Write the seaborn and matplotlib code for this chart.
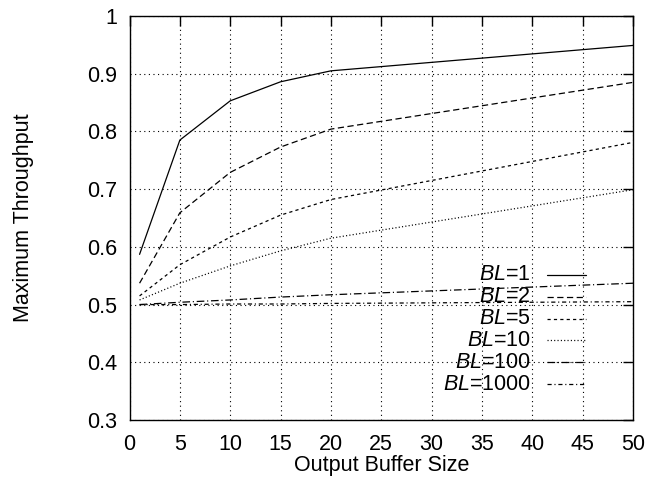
import numpy as np
import pandas as pd
import matplotlib
matplotlib.use("Agg")
import matplotlib.pyplot as plt
import seaborn as sns
from matplotlib.lines import Line2D

# ---- data ----
buffer_size = [1, 5, 10, 15, 20, 50]
bl_labels = ["1", "2", "5", "10", "100", "1000"]
tp_bl1 = [0.587, 0.785, 0.853, 0.886, 0.905, 0.949]
tp_bl2 = [0.537, 0.659, 0.729, 0.773, 0.804, 0.885]
tp_bl5 = [0.515, 0.569, 0.617, 0.655, 0.682, 0.781]
tp_bl10 = [0.508, 0.537, 0.567, 0.593, 0.615, 0.699]
tp_bl100 = [0.500, 0.504, 0.508, 0.513, 0.517, 0.537]
tp_bl1000 = [0.500, 0.500, 0.501, 0.501, 0.502, 0.505]
x_ticks = [0, 5, 10, 15, 20, 25, 30, 35, 40, 45, 50]
y_ticks = [0.3, 0.4, 0.5, 0.6, 0.7, 0.8, 0.9, 1.0]

series = [tp_bl1, tp_bl2, tp_bl5, tp_bl10, tp_bl100, tp_bl1000]
df = pd.DataFrame({
    "size": np.tile(buffer_size, len(bl_labels)),
    "tp": np.concatenate(series),
    "BL": np.repeat(bl_labels, len(buffer_size)),
})

sns.set_style("white")
plt.rcParams["font.family"] = ["Liberation Sans", "DejaVu Sans"]
plt.rcParams["mathtext.fontset"] = "custom"
plt.rcParams["mathtext.it"] = "Liberation Sans:italic"
plt.rcParams["mathtext.rm"] = "Liberation Sans"
plt.rcParams["lines.scale_dashes"] = False
plt.rcParams["text.color"] = "black"
plt.rcParams["axes.labelcolor"] = "black"
plt.rcParams["xtick.color"] = "black"
plt.rcParams["ytick.color"] = "black"

FS = 15.5

dash_map = {
    "1": "",
    "2": (4.5, 2.5),
    "5": (2.3, 2.3),
    "10": (0.8, 1.6),
    "100": (5.5, 2.0, 0.8, 2.0),
    "1000": (3.0, 2.0, 0.8, 2.0),
}
palette = {k: "black" for k in bl_labels}

fig = plt.figure(figsize=(6.47, 4.8), dpi=100)
ax = fig.add_axes([129.5 / 647, 1 - 420 / 480, (633 - 129.5) / 647, (420 - 16) / 480])

sns.lineplot(data=df, x="size", y="tp", hue="BL", style="BL", dashes=dash_map,
             palette=palette, hue_order=bl_labels, style_order=bl_labels,
             linewidth=0.9, legend=False, ax=ax)

ax.set_xlim(0, 50)
ax.set_ylim(0.3, 1.0)
ax.set_xticks(x_ticks)
ax.set_yticks(y_ticks)
ax.set_xticklabels([f"{v:g}" for v in x_ticks])
ax.set_yticklabels([f"{v:g}" for v in y_ticks])
ax.grid(True, color="black", linestyle=(0, (0.8, 2.5)), linewidth=0.8)
ax.tick_params(direction="in", length=7, width=1, labelsize=FS, color="black",
               labelcolor="black", top=True, right=True)
ax.tick_params(axis="y", pad=9)
ax.tick_params(axis="x", pad=10)
for s in ax.spines.values():
    s.set_color("black")
    s.set_linewidth(1.0)

ax.set_xlabel("Output Buffer Size", fontsize=FS, labelpad=0, color="black")
ax.set_ylabel("Maximum Throughput", fontsize=FS, color="black")
ax.yaxis.set_label_coords(-0.19, 0.5)

# gnuplot-style key: right-aligned text with sample to the right
text_x = 0.797
line_x0, line_x1 = 0.8296, 0.9066
y0 = (420 - 275) / 404
dy = 21.8 / 404
for i, lab in enumerate(bl_labels):
    yy = y0 - i * dy
    ax.text(text_x, yy, r"$\mathit{BL}$=" + lab, transform=ax.transAxes,
            ha="right", va="center", fontsize=FS, color="black")
    d = dash_map[lab]
    ln = Line2D([line_x0, line_x1], [yy, yy], transform=ax.transAxes,
                color="black", linewidth=0.9)
    if d:
        ln.set_dashes(d)
    ax.add_line(ln)

fig.savefig("out.png", dpi=100)
